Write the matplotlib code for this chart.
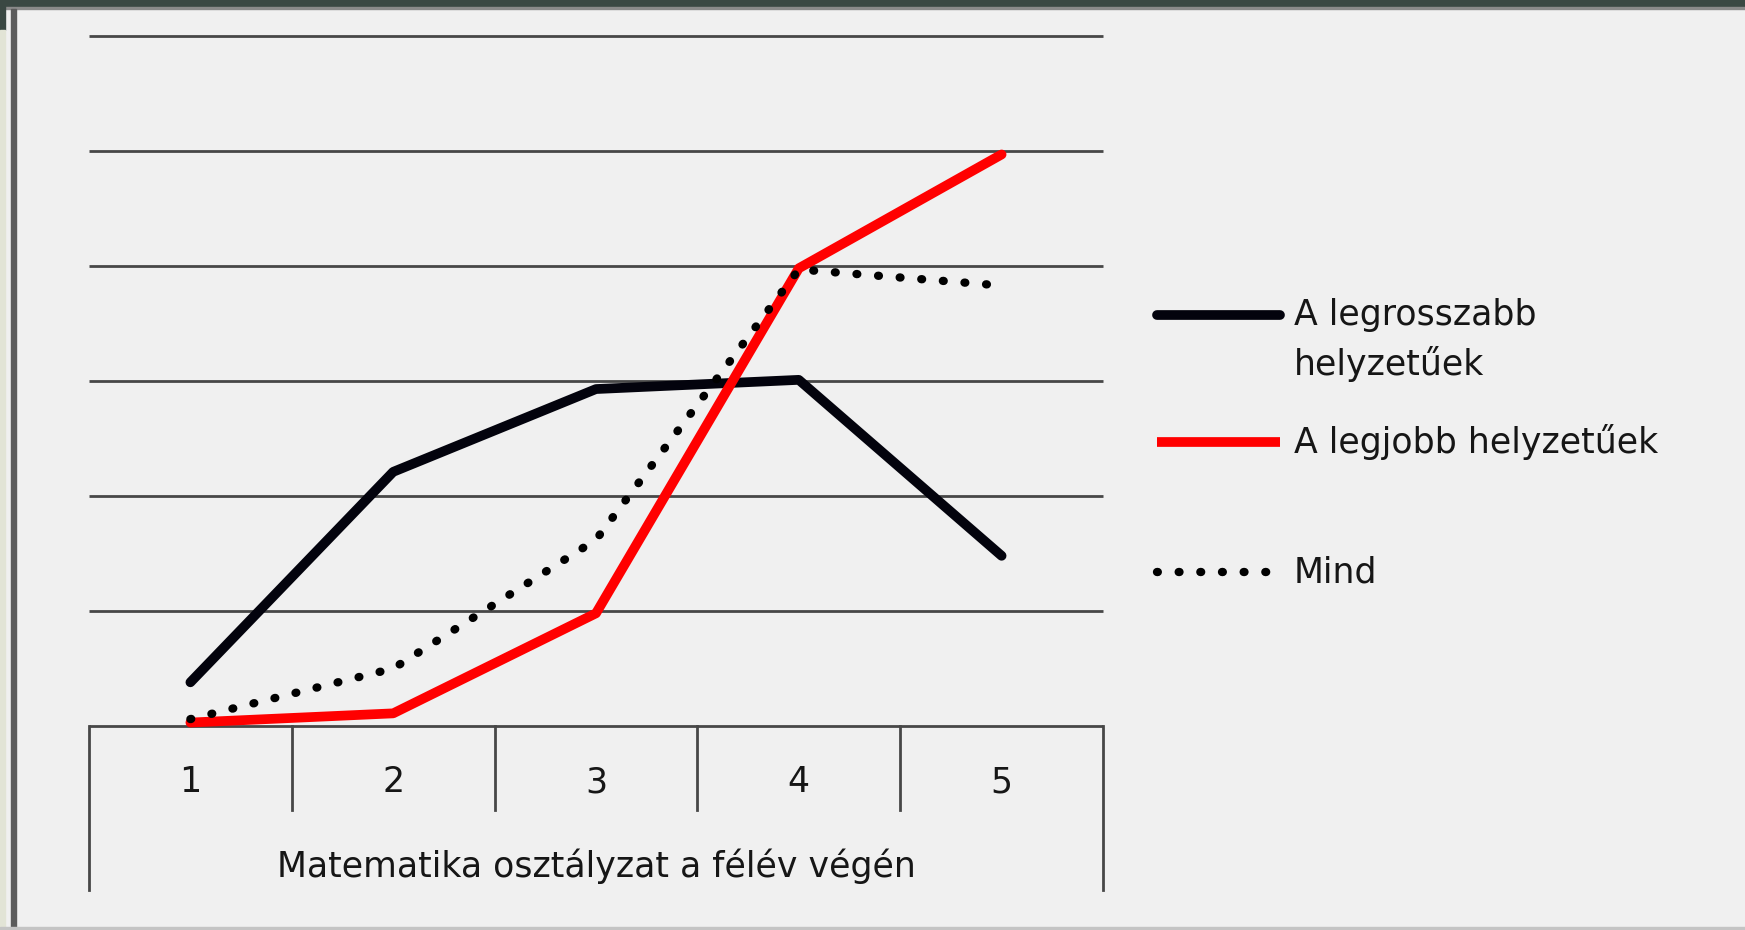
import matplotlib.pyplot as plt
import matplotlib.transforms as mtransforms
from matplotlib.lines import Line2D
from matplotlib.patches import Rectangle

# data (grid step = 1 unit)
grades = ['1', '2', '3', '4', '5']
worst = [0.38, 2.21, 2.93, 3.01, 1.48]
best = [0.03, 0.11, 0.98, 3.98, 4.97]
everyone = [0.06, 0.50, 1.62, 3.97, 3.83]
series_labels = ['A legrosszabb\nhelyzetűek', 'A legjobb helyzetűek', 'Mind']
x_title = 'Matematika osztályzat a félév végén'

W, H = 1745, 930
BG = '#f0f0f0'
GRID = '#474747'
TEXT = '#161616'
FS = 25
LW = 7

plt.rcParams['font.family'] = ['DejaVu Sans']


def fx(px):
    return px / W


def fy(py):
    return 1 - py / H


fig = plt.figure(figsize=(W / 100, H / 100), dpi=100, facecolor=BG)

# window frame around the screenshot
frame = [
    ((0, 0), W, 7, '#3a4843'),
    ((0, 7), W, 2, '#8a8a8a'),
    ((0, 0), 5, 30, '#3a4843'),
    ((0, 30), 5, H - 30, '#e2e4d6'),
    ((11, 9), 5, H - 9, '#5c5c5c'),
    ((0, H - 3), W, 3, '#c4c4c4'),
]
for (x0, y0), w, h, c in frame:
    fig.patches.append(Rectangle((fx(x0), fy(y0 + h)), w / W, h / H,
                                 transform=fig.transFigure, color=c, zorder=0))

ax = fig.add_axes([fx(89), fy(726), fx(1103) - fx(89), (726 - 36) / H])
ax.set_facecolor(BG)
n = len(grades)
x = list(range(1, n + 1))
ax.set_xlim(0.5, n + 0.5)
ax.set_ylim(0, 6)
for s in ax.spines.values():
    s.set_visible(False)
ax.set_xticks([])
ax.set_yticks([])

# horizontal gridlines incl. the baseline
ax.hlines(range(0, 7), 0.5, n + 0.5, color=GRID, lw=2, zorder=1, clip_on=False)

# series
ax.plot(x, worst, color='#03030d', lw=LW, solid_capstyle='round',
        solid_joinstyle='round', clip_on=False, zorder=3)
ax.plot(x, best, color='#ff0000', lw=LW, solid_capstyle='round',
        solid_joinstyle='round', clip_on=False, zorder=4)
ax.plot(x, everyone, color='black', lw=6, linestyle=(0, (0.1, 2.5)),
        dash_capstyle='round', clip_on=False, zorder=5)

# category table under the axis
trans = mtransforms.blended_transform_factory(ax.transData, ax.transAxes)
bounds = [i + 0.5 for i in range(n + 1)]
for b in bounds:
    bottom = -0.2377 if b in (bounds[0], bounds[-1]) else -0.1217
    ax.plot([b, b], [0, bottom], transform=trans, color=GRID, lw=2,
            clip_on=False, zorder=1)
for xi, g in zip(x, grades):
    ax.text(xi, -0.0812, g, transform=trans, ha='center', va='center',
            fontsize=FS, color=TEXT)
ax.text(0.5, -0.203, x_title, transform=ax.transAxes, ha='center',
        va='center', fontsize=FS, color=TEXT)

# legend drawn by hand
styles = [
    dict(color='#03030d', lw=LW, solid_capstyle='round'),
    dict(color='#ff0000', lw=LW, solid_capstyle='butt'),
    dict(color='black', lw=6, linestyle=(0, (0.1, 2.5)), dash_capstyle='round'),
]
legend_y = [315, 442, 572]
handle_end = [1280, 1280, 1270]
for label, st, ly, he in zip(series_labels, styles, legend_y, handle_end):
    fig.add_artist(Line2D([fx(1157), fx(he)], [fy(ly), fy(ly)],
                          transform=fig.transFigure, **st))
    for j, line in enumerate(label.split('\n')):
        fig.text(fx(1294), fy(ly + j * 49), line, ha='left', va='center',
                 fontsize=FS, color=TEXT)

fig.savefig('out.png', dpi=100, facecolor=BG)
